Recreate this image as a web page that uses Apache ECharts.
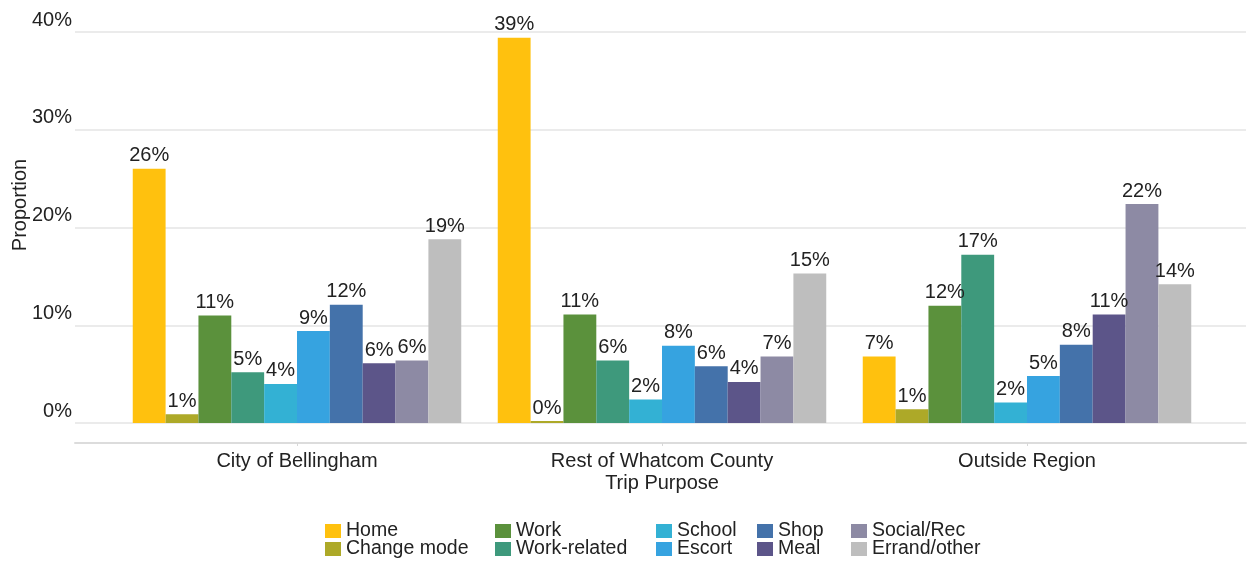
<!DOCTYPE html>
<html>
<head>
<meta charset="utf-8">
<title>Trip Purpose by Region</title>
<script src="https://cdn.jsdelivr.net/npm/echarts@6/dist/echarts.min.js"></script>
<style>
  html, body { margin: 0; padding: 0; background: #ffffff; }
  #chart { width: 1247px; height: 566px; }
</style>
</head>
<body>
<div id="chart"></div>
<script>
// Trip destinations by purpose, share of trips (%)
const regions = ['City of Bellingham', 'Rest of Whatcom County', 'Outside Region'];
const purposes = ['Home', 'Change mode', 'Work', 'Work-related', 'School',
                  'Escort', 'Shop', 'Meal', 'Social/Rec', 'Errand/other'];

const bellingham    = [26.0, 0.9, 11.0, 5.2, 4.0, 9.4, 12.1, 6.1, 6.4, 18.8];
const restOfWhatcom = [39.4, 0.2, 11.1, 6.4, 2.4, 7.9, 5.8, 4.2, 6.8, 15.3];
const outsideRegion = [6.8, 1.4, 12.0, 17.2, 2.1, 4.8, 8.0, 11.1, 22.4, 14.2];

const yTicks = [0, 10, 20, 30, 40];

const purposeColors = ['#FFC10E', '#ADA928', '#5B913C', '#3E997C', '#33B1D4',
                       '#36A3E0', '#4472AA', '#5C5589', '#8D8AA4', '#BEBEBE'];

const FONT = "'Liberation Sans', Arial, Helvetica, sans-serif";
const TEXT = '#222222';

const chart = echarts.init(document.getElementById('chart'));

const plotTop = 32;
const plotBottom = 143;

// Legend: five columns of two entries each
const legendLefts = [325, 495, 656, 757, 851];
const legends = legendLefts.map((left, c) => ({
  orient: 'vertical',
  left: left,
  top: 521,
  itemWidth: 16,
  itemHeight: 14,
  itemGap: -2,
  padding: 0,
  selectedMode: false,
  icon: 'rect',
  textStyle: { fontFamily: FONT, fontSize: 19.5, color: TEXT, padding: [7, 0, 0, 0] },
  data: purposes.slice(c * 2, c * 2 + 2)
}));

const series = purposes.map((name, i) => ({
  name: name,
  type: 'bar',
  xAxisIndex: 1,
  yAxisIndex: 1,
  barGap: '0%',
  barCategoryGap: '10%',
  itemStyle: { color: purposeColors[i] },
  label: {
    show: true,
    position: 'top',
    distance: 3,
    fontFamily: FONT,
    fontSize: 20,
    color: TEXT,
    formatter: p => Math.round(p.value) + '%'
  },
  data: [bellingham[i], restOfWhatcom[i], outsideRegion[i]]
}));

chart.setOption({
  backgroundColor: '#ffffff',
  animation: false,
  legend: legends,
  grid: [
    // full-width panel carrying the gridlines, y labels and baseline
    { left: 75, right: 1, top: plotTop, bottom: plotBottom, outerBoundsMode: 'none', containLabel: false },
    // inner panel holding the bars
    { left: 114.5, right: 37.5, top: plotTop, bottom: plotBottom, outerBoundsMode: 'none', containLabel: false }
  ],
  xAxis: [
    {
      gridIndex: 0,
      type: 'value',
      min: 0,
      max: 1,
      offset: 20,
      axisLine: { show: true, onZero: false, lineStyle: { color: '#DCDCDC', width: 2 } },
      axisTick: { show: false },
      axisLabel: { show: false },
      splitLine: { show: false }
    },
    {
      gridIndex: 1,
      type: 'category',
      data: regions,
      offset: 20,
      axisLine: { show: false, onZero: false },
      axisTick: { show: true, alignWithLabel: true, length: 3, lineStyle: { color: '#D8D8D8' } },
      axisLabel: { fontFamily: FONT, fontSize: 20, color: TEXT, margin: 8 },
      name: 'Trip Purpose',
      nameLocation: 'middle',
      nameGap: 30,
      nameMoveOverlap: false,
      nameTextStyle: { fontFamily: FONT, fontSize: 20, color: TEXT }
    }
  ],
  yAxis: [
    {
      gridIndex: 0,
      type: 'value',
      min: yTicks[0],
      max: yTicks[yTicks.length - 1],
      interval: yTicks[1] - yTicks[0],
      axisLine: { show: false },
      axisTick: { show: false },
      axisLabel: {
        fontFamily: FONT, fontSize: 20, color: TEXT, margin: 3,
        verticalAlign: 'bottom', padding: [0, 0, 2, 0],
        formatter: v => v + '%'
      },
      splitLine: { show: true, lineStyle: { color: '#EBEBEB', width: 2 } },
      name: 'Proportion',
      nameLocation: 'middle',
      nameGap: 45,
      nameMoveOverlap: false,
      nameTextStyle: { fontFamily: FONT, fontSize: 20, color: TEXT, padding: [0, 0, 0, 45] }
    },
    {
      gridIndex: 1,
      type: 'value',
      min: yTicks[0],
      max: yTicks[yTicks.length - 1],
      show: false,
      splitLine: { show: false }
    }
  ],
  series: series
});
</script>
</body>
</html>
